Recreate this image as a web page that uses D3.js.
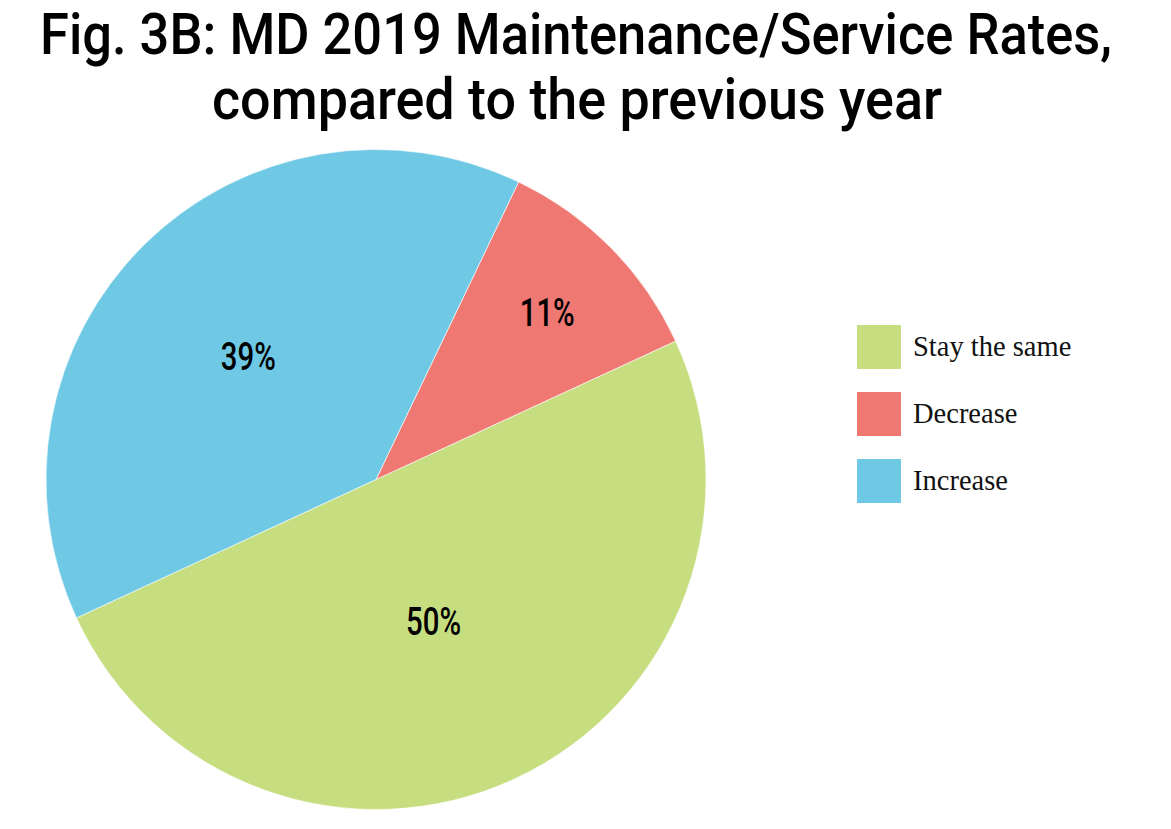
<!DOCTYPE html>
<html>
<head>
<meta charset="utf-8">
<script src="https://cdn.jsdelivr.net/npm/d3@7"></script>
<style>
  body { margin: 0; background: #fff; }
  svg { display: block; }
</style>
</head>
<body>
<svg id="chart" width="1171" height="829"></svg>
<script>
// legend order
const categories = ["Stay the same", "Decrease", "Increase"];
const values = [50, 11, 39];
const colors = ["#C7DE80", "#EF7872", "#6FC9E5"];
const titleLines = ["Fig. 3B: MD 2019 Maintenance/Service Rates,", "compared to the previous year"];

const svg = d3.select("#chart");
const cx = 376, cy = 479.5, radius = 330;

// title (condensed look via textLength)
const titleFont = "Roboto, 'DejaVu Sans', sans-serif";
svg.append("text")
  .attr("x", 40).attr("y", 54)
  .attr("textLength", 1072).attr("lengthAdjust", "spacingAndGlyphs")
  .style("font-family", titleFont).style("font-weight", 500).style("font-size", "57px")
  .text(titleLines[0]);
svg.append("text")
  .attr("x", 212).attr("y", 119)
  .attr("textLength", 730).attr("lengthAdjust", "spacingAndGlyphs")
  .style("font-family", titleFont).style("font-weight", 500).style("font-size", "57px")
  .text(titleLines[1]);

// pie goes counter-clockwise from 245.2deg
const start = 245.2 * Math.PI / 180;
const pie = d3.pie().sort(null).value(d => d.v)
  .startAngle(start).endAngle(start - 2 * Math.PI);
const data = categories.map((c, i) => ({c, v: values[i], col: colors[i]}));
const arcs = pie(data);

const g = svg.append("g").attr("transform", `translate(${cx},${cy})`);
const arc = d3.arc().innerRadius(0).outerRadius(radius);

g.selectAll("path")
  .data(arcs)
  .enter()
  .append("path")
  .attr("d", arc)
  .attr("fill", d => d.data.col)
  .attr("stroke", "#fff")
  .attr("stroke-width", 0.6);

// label distance as fraction of radius, and angle nudge (deg), per slice
const labelPos = [0.462, 0.724, 0.54];
const labelShift = [2.8, 0.2, -1.4];
g.selectAll("text.lbl")
  .data(arcs)
  .enter()
  .append("text")
  .attr("class", "lbl")
  .attr("x", (d, i) => {
    const a = (d.startAngle + d.endAngle) / 2 + labelShift[i] * Math.PI / 180;
    return radius * labelPos[i] * Math.sin(a) - 27;
  })
  .attr("y", (d, i) => {
    const a = (d.startAngle + d.endAngle) / 2 + labelShift[i] * Math.PI / 180;
    return -radius * labelPos[i] * Math.cos(a) + 14;
  })
  .attr("textLength", 55).attr("lengthAdjust", "spacingAndGlyphs")
  .style("font-family", titleFont).style("font-weight", 500).style("font-size", "38px")
  .style("fill", "#000")
  .text(d => d.data.v + "%");

// legend
const legend = svg.append("g");
const lg = legend.selectAll("g")
  .data(data)
  .enter()
  .append("g")
  .attr("transform", (d, i) => `translate(857,${325 + i * 67})`);
lg.append("rect")
  .attr("width", 44).attr("height", 44)
  .attr("fill", d => d.col);
lg.append("text")
  .attr("x", 56).attr("y", 31)
  .style("font-family", "'Liberation Serif', serif").style("font-size", "28.5px")
  .style("fill", "#111")
  .text(d => d.c);
</script>
</body>
</html>
